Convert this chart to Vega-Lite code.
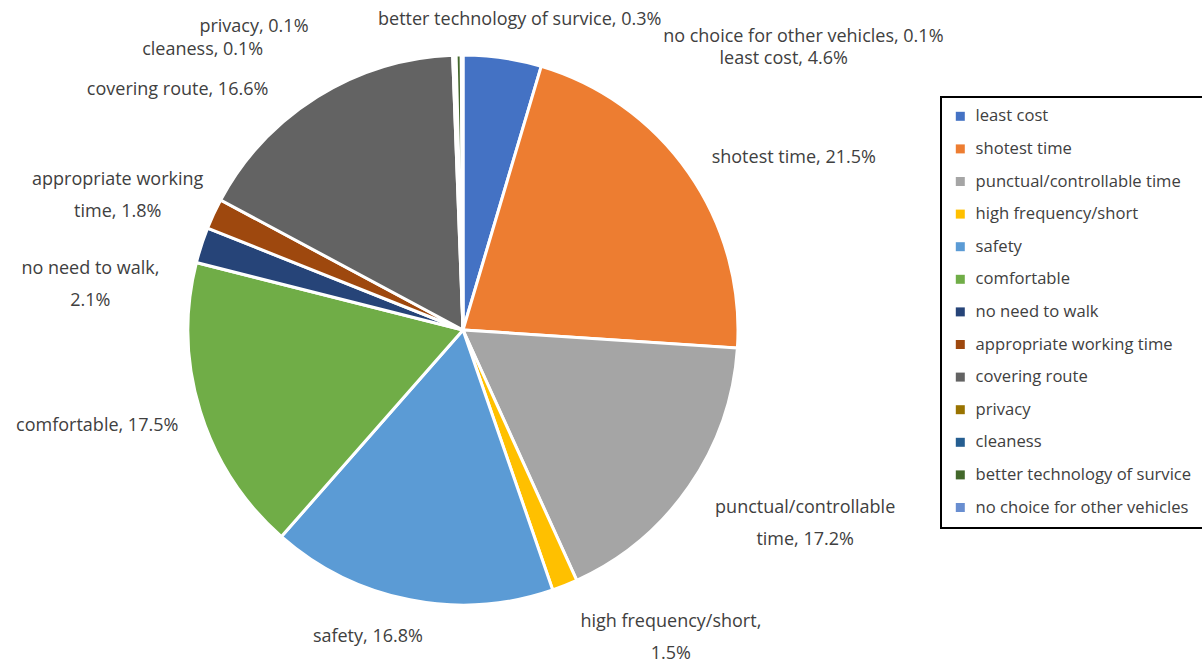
{
  "$schema": "https://vega.github.io/schema/vega-lite/v6.json",
  "width": 926,
  "height": 660,
  "autosize": "none",
  "padding": {"left": 0, "top": 0, "right": 276, "bottom": 1},
  "background": "white",
  "data": {"values": [
    {"n": 1, "cat": "least cost", "pct": 4.6, "label": "least cost, 4.6%"},
    {"n": 2, "cat": "shotest time", "pct": 21.5, "label": "shotest time, 21.5%"},
    {"n": 3, "cat": "punctual/controllable time", "pct": 17.2, "label": "punctual/controllable\ntime, 17.2%"},
    {"n": 4, "cat": "high frequency/short", "pct": 1.5, "label": "high frequency/short,\n1.5%"},
    {"n": 5, "cat": "safety", "pct": 16.8, "label": "safety, 16.8%"},
    {"n": 6, "cat": "comfortable", "pct": 17.5, "label": "comfortable, 17.5%"},
    {"n": 7, "cat": "no need to walk", "pct": 2.1, "label": "no need to walk,\n2.1%"},
    {"n": 8, "cat": "appropriate working time", "pct": 1.8, "label": "appropriate working\ntime, 1.8%"},
    {"n": 9, "cat": "covering route", "pct": 16.6, "label": "covering route, 16.6%"},
    {"n": 10, "cat": "privacy", "pct": 0.1, "label": "privacy, 0.1%"},
    {"n": 11, "cat": "cleaness", "pct": 0.1, "label": "cleaness, 0.1%"},
    {"n": 12, "cat": "better technology of survice", "pct": 0.3, "label": "better technology of survice, 0.3%"},
    {"n": 13, "cat": "no choice for other vehicles", "pct": 0.1, "label": "no choice for other vehicles, 0.1%"}
  ]},
  "encoding": {
    "theta": {"field": "pct", "type": "quantitative", "stack": true},
    "order": {"field": "n", "type": "quantitative"}
  },
  "layer": [
    {
      "mark": {"type": "arc", "outerRadius": 275, "stroke": "white", "strokeWidth": 3},
      "encoding": {
        "color": {
          "field": "cat", "type": "nominal",
          "scale": {
            "domain": ["least cost", "shotest time", "punctual/controllable time", "high frequency/short", "safety", "comfortable", "no need to walk", "appropriate working time", "covering route", "privacy", "cleaness", "better technology of survice", "no choice for other vehicles"],
            "range": ["#4472C4", "#ED7D31", "#A5A5A5", "#FFC000", "#5B9BD5", "#70AD47", "#264478", "#9E480E", "#636363", "#997300", "#255E91", "#43682B", "#698ED0"]
          },
          "legend": {
            "title": null, "orient": "none", "legendX": 941, "legendY": 97,
            "symbolType": "square", "symbolSize": 81, "symbolStrokeWidth": 0,
            "labelFontSize": 16.6, "labelFont": "Open Sans", "labelColor": "#404040",
            "labelOffset": 7, "rowPadding": 15.6, "padding": 11,
            "strokeColor": "black", "labelLimit": 400
          }
        }
      }
    },
    {"mark": {"type": "text", "radius": 275, "align": "left", "dx": 217, "dy": 1},
     "encoding": {"detail": {"field": "cat"}, "text": {"condition": {"test": "datum.cat === 'least cost'", "field": "label"}, "value": ""}}},
    {"mark": {"type": "text", "radius": 275, "align": "left", "dx": 23, "dy": -15},
     "encoding": {"detail": {"field": "cat"}, "text": {"condition": {"test": "datum.cat === 'shotest time'", "field": "label"}, "value": ""}}},
    {"mark": {"type": "text", "radius": 275, "align": "center", "dx": 116, "dy": 22},
     "encoding": {"detail": {"field": "cat"}, "text": {"condition": {"test": "datum.cat === 'punctual/controllable time'", "field": "label"}, "value": ""}}},
    {"mark": {"type": "text", "radius": 275, "align": "center", "dx": 106, "dy": 37},
     "encoding": {"detail": {"field": "cat"}, "text": {"condition": {"test": "datum.cat === 'high frequency/short'", "field": "label"}, "value": ""}}},
    {"mark": {"type": "text", "radius": 275, "align": "center", "dx": -42, "dy": 37},
     "encoding": {"detail": {"field": "cat"}, "text": {"condition": {"test": "datum.cat === 'safety'", "field": "label"}, "value": ""}}},
    {"mark": {"type": "text", "radius": 275, "align": "right", "dx": -22, "dy": 14},
     "encoding": {"detail": {"field": "cat"}, "text": {"condition": {"test": "datum.cat === 'comfortable'", "field": "label"}, "value": ""}}},
    {"mark": {"type": "text", "radius": 275, "align": "center", "dx": -111, "dy": 24},
     "encoding": {"detail": {"field": "cat"}, "text": {"condition": {"test": "datum.cat === 'no need to walk'", "field": "label"}, "value": ""}}},
    {"mark": {"type": "text", "radius": 275, "align": "center", "dx": -96, "dy": -34},
     "encoding": {"detail": {"field": "cat"}, "text": {"condition": {"test": "datum.cat === 'appropriate working time'", "field": "label"}, "value": ""}}},
    {"mark": {"type": "text", "radius": 275, "align": "right", "dx": -49, "dy": -7},
     "encoding": {"detail": {"field": "cat"}, "text": {"condition": {"test": "datum.cat === 'covering route'", "field": "label"}, "value": ""}}},
    {"mark": {"type": "text", "radius": 275, "align": "right", "dx": -145, "dy": -28},
     "encoding": {"detail": {"field": "cat"}, "text": {"condition": {"test": "datum.cat === 'privacy'", "field": "label"}, "value": ""}}},
    {"mark": {"type": "text", "radius": 275, "align": "right", "dx": -192, "dy": -5},
     "encoding": {"detail": {"field": "cat"}, "text": {"condition": {"test": "datum.cat === 'cleaness'", "field": "label"}, "value": ""}}},
    {"mark": {"type": "text", "radius": 275, "align": "center", "dx": 61, "dy": -35},
     "encoding": {"detail": {"field": "cat"}, "text": {"condition": {"test": "datum.cat === 'better technology of survice'", "field": "label"}, "value": ""}}},
    {"mark": {"type": "text", "radius": 275, "align": "left", "dx": 201, "dy": -18},
     "encoding": {"detail": {"field": "cat"}, "text": {"condition": {"test": "datum.cat === 'no choice for other vehicles'", "field": "label"}, "value": ""}}}
  ],
  "config": {
    "view": {"stroke": null},
    "text": {"font": "Open Sans", "fontSize": 18, "fill": "#404040", "lineBreak": "\n", "lineHeight": 32, "baseline": "middle"},
    "legend": {"strokeWidth": 2}
  }
}
